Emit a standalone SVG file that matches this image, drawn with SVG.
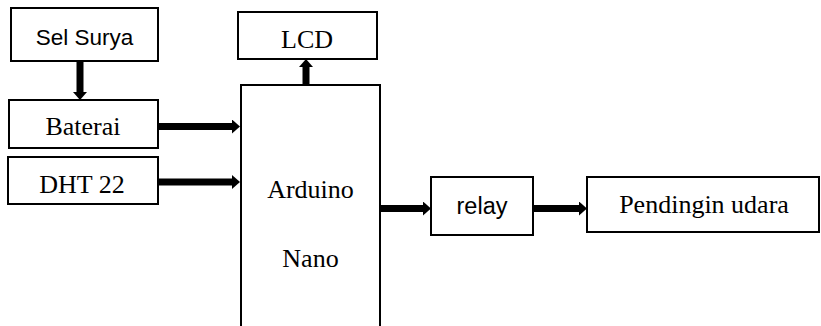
<svg xmlns="http://www.w3.org/2000/svg" width="821" height="326" viewBox="0 0 821 326">
<style>
.box{fill:#fff;stroke:#000;stroke-width:2}
.serif{font-family:"Liberation Serif","Times New Roman",serif;font-size:26px;fill:#000}
.sans{font-family:"Liberation Sans",Arial,sans-serif;font-size:22.5px;fill:#000}
.conn{stroke:#000;stroke-width:7;fill:none}
</style>
<defs>
<marker id="ah" markerUnits="userSpaceOnUse" markerWidth="9" markerHeight="14" refX="0" refY="7" orient="auto" viewBox="0 0 9 14">
<path d="M0,0 L8,7 L0,14 Z" fill="#000"/>
</marker>
</defs>
<rect width="821" height="326" fill="#fff"/>
<g id="sel-surya"><rect class="box" x="11" y="8" width="147" height="53"/><text class="sans" x="84.5" y="45" text-anchor="middle">Sel Surya</text></g>
<g id="baterai"><rect class="box" x="9" y="100" width="149" height="48"/><text class="serif" x="83" y="135" text-anchor="middle">Baterai</text></g>
<g id="dht22"><rect class="box" x="8" y="157" width="150" height="47"/><text class="serif" x="82" y="193" text-anchor="middle">DHT 22</text></g>
<g id="lcd"><rect class="box" x="238" y="12" width="139" height="47"/><text class="serif" x="307" y="48" text-anchor="middle">LCD</text></g>
<g id="arduino"><rect class="box" x="241" y="85" width="139" height="260"/><text class="serif" x="310.5" y="198" text-anchor="middle">Arduino</text><text class="serif" x="310.5" y="267" text-anchor="middle">Nano</text></g>
<g id="relay"><rect class="box" x="431" y="177" width="102" height="58"/><text class="sans" x="482" y="214" text-anchor="middle" style="font-size:23.5px">relay</text></g>
<g id="pendingin"><rect class="box" x="587" y="177" width="232" height="55"/><text class="serif" x="704" y="213" text-anchor="middle">Pendingin udara</text></g>
<g id="connectors">
<line class="conn" x1="80" y1="62" x2="80" y2="92" marker-end="url(#ah)"/>
<line class="conn" x1="159" y1="126.5" x2="232" y2="126.5" marker-end="url(#ah)"/>
<line class="conn" x1="159" y1="182" x2="232" y2="182" marker-end="url(#ah)"/>
<line class="conn" x1="306" y1="84" x2="306" y2="67" marker-end="url(#ah)"/>
<line class="conn" x1="381" y1="208.5" x2="423" y2="208.5" marker-end="url(#ah)"/>
<line class="conn" x1="534" y1="208.5" x2="579" y2="208.5" marker-end="url(#ah)"/>
</g>
</svg>
